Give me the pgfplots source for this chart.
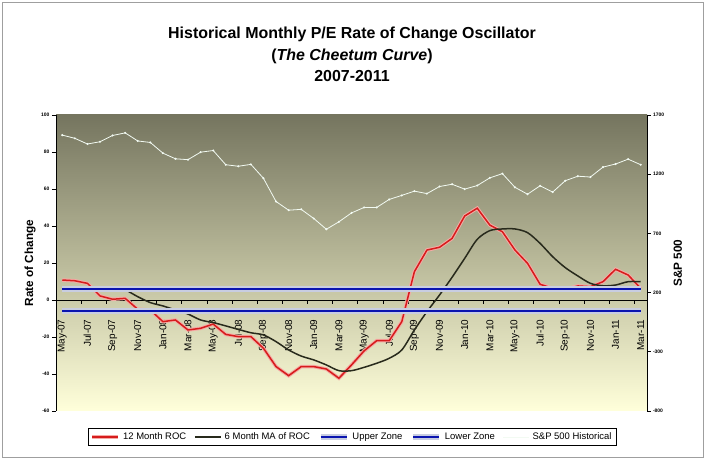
\documentclass[border=0pt]{standalone}
\usepackage{pgfplots}
\usepackage{pgfplotstable}
\pgfplotsset{compat=1.18}
\usepackage{fontspec}
\setmainfont{Liberation Sans}
\definecolor{rocred}{RGB}{214,28,28}
\definecolor{rocglow}{RGB}{245,170,165}
\definecolor{maline}{RGB}{40,42,28}
\definecolor{zoneblue}{RGB}{10,20,175}
\definecolor{zoneglow}{RGB}{200,205,225}
\definecolor{spwhite}{RGB}{242,250,242}
\definecolor{bgtop}{RGB}{117,117,95}
\definecolor{bgmid}{RGB}{186,186,154}
\definecolor{bgbot}{RGB}{255,255,218}
\pgfplotstableread{
i roc ma sp up lo
0 10.8 5.2 1530 6 -6
1 10.4 6.3 1503 6 -6
2 9.0 6.5 1455 6 -6
3 2.2 6.5 1474 6 -6
4 0.4 6.3 1527 6 -6
5 0.9 5.4 1549 6 -6
6 -5.0 1.8 1481 6 -6
7 -5.4 -1.4 1468 6 -6
8 -11.7 -3.2 1378 6 -6
9 -10.8 -5.4 1330 6 -6
10 -16.2 -7.6 1323 6 -6
11 -15.3 -10.8 1386 6 -6
12 -13.0 -12.2 1400 6 -6
13 -18.6 -14.0 1280 6 -6
14 -19.8 -15.9 1267 6 -6
15 -19.8 -17.7 1283 6 -6
16 -26.1 -18.9 1165 6 -6
17 -36.0 -22.5 969 6 -6
18 -40.9 -27.0 896 6 -6
19 -36.0 -30.3 903 6 -6
20 -36.0 -32.4 826 6 -6
21 -37.3 -35.1 735 6 -6
22 -42.3 -38.2 798 6 -6
23 -35.1 -38.2 873 6 -6
24 -27.5 -36.4 919 6 -6
25 -22.0 -34.2 919 6 -6
26 -22.0 -31.5 987 6 -6
27 -11.7 -27.0 1021 6 -6
28 15.3 -16.2 1057 6 -6
29 27.0 -6.3 1036 6 -6
30 28.5 2.7 1096 6 -6
31 33.3 12.3 1115 6 -6
32 45.4 22.5 1074 6 -6
33 49.6 32.8 1104 6 -6
34 40.5 37.5 1169 6 -6
35 36.9 38.4 1205 6 -6
36 27.0 38.4 1089 6 -6
37 19.8 36.4 1031 6 -6
38 8.5 30.6 1102 6 -6
39 6.3 23.4 1049 6 -6
40 5.8 17.5 1145 6 -6
41 7.6 13.0 1183 6 -6
42 7.2 9.0 1176 6 -6
43 9.9 7.7 1260 6 -6
44 16.6 8.1 1286 6 -6
45 13.5 9.9 1327 6 -6
46 6.3 9.9 1280 6 -6
}\data
\begin{document}
\begin{tikzpicture}
\useasboundingbox (0,0) rectangle (705bp,460bp);
\fill[white] (0,0) rectangle (705bp,460bp);
\draw[gray!75, line width=1bp] (2bp,2.5bp) rectangle (703bp,457.5bp);
\shade[top color=bgtop, bottom color=bgbot, middle color=bgmid] (56bp,49bp) rectangle (647bp,345bp);
\node[font=\fontsize{16}{18}\selectfont\bfseries, anchor=base] at (352bp,421bp) {Historical Monthly P/E Rate of Change Oscillator};
\node[font=\fontsize{16}{18}\selectfont\bfseries, anchor=base] at (352bp,399bp) {(\textit{The Cheetum Curve})};
\node[font=\fontsize{16}{18}\selectfont\bfseries, anchor=base] at (352bp,378bp) {2007-2011};
\begin{axis}[
  at={(56bp,49bp)}, anchor=south west,
  scale only axis, width=591bp, height=296bp,
  xmin=-0.5, xmax=46.5, ymin=-60, ymax=100,
  axis x line=middle, axis y line*=left,
  axis line style={-, black, line width=0.7bp},
  hide obscured y ticks=false, hide obscured x ticks=false,
  /pgf/number format/assume math mode=true,
  ytick={-60,-40,...,100},
  yticklabel style={font=\fontsize{5}{6}\selectfont\bfseries, xshift=1bp},
  ytick align=outside,
  xtick={1.5,3.5,...,45.5},
  xticklabel={\phantom{0}},
  xtick style={draw=black, line width=0.7bp},
  extra x ticks={0,2,...,46},
  extra x tick labels={May-07,Jul-07,Sep-07,Nov-07,Jan-08,Mar-08,May-08,Jul-08,Sep-08,Nov-08,Jan-09,Mar-09,May-09,Jul-09,Sep-09,Nov-09,Jan-10,Mar-10,May-10,Jul-10,Sep-10,Nov-10,Jan-11,Mar-11},
  extra x tick style={xtick style={draw=none}},
  xtick align=outside,
  major tick length=4bp,
  ytick style={black, line width=0.6bp},
  xticklabel style={yshift=-12bp, rotate=90, anchor=east, font=\fontsize{10}{12}\selectfont},
  every axis y label/.style={at={(axis description cs:-0.044,0.5)}, rotate=90, anchor=center},
  ylabel={Rate of Change},
  ylabel style={font=\fontsize{11.8}{13}\selectfont\bfseries},
  clip=false,
  legend columns=5,
  legend style={at={(axis description cs:0.501,-0.088)}, anchor=center, draw=black, line width=0.7bp,
    font=\fontsize{9.5}{11}\selectfont, inner sep=2.5bp,
    /tikz/every even column/.append style={column sep=6bp},
    /tikz/every odd column/.append style={column sep=1bp}},
  legend image code/.code={\draw[#1] (0bp,0bp) -- (26bp,0bp);},
]
\addplot[rocred, line width=1.5bp, preaction={draw=rocglow, line width=3.5bp}] table[x=i,y=roc] {\data};
\addlegendentry{12 Month ROC}
\addplot[maline, line width=1.5bp, smooth] table[x=i,y=ma] {\data};
\addlegendentry{6 Month MA of ROC}
\addplot[zoneblue, line width=2.6bp, preaction={draw=zoneglow, line width=5.5bp}] table[x=i,y=up] {\data};
\addlegendentry{Upper Zone}
\addplot[zoneblue, line width=2.6bp, preaction={draw=zoneglow, line width=5.5bp}] table[x=i,y=lo] {\data};
\addlegendentry{Lower Zone}
\addlegendimage{spwhite, line width=0.8bp}
\addlegendentry{S\&P 500 Historical}
\end{axis}
\begin{axis}[
  at={(56bp,49bp)}, anchor=south west,
  scale only axis, width=591bp, height=296bp,
  xmin=-0.5, xmax=46.5, ymin=-800, ymax=1700,
  axis x line=none, axis y line*=right,
  axis line style={-, black, line width=0.7bp},
  /pgf/number format/assume math mode=true,
  /pgf/number format/1000 sep={},
  ytick={-800,-300,...,1700},
  yticklabel style={font=\fontsize{5}{6}\selectfont\bfseries, xshift=-1bp},
  ytick align=outside, major tick length=3.5bp,
  tick style={black, line width=0.6bp},
  every axis y label/.style={at={(axis description cs:1.052,0.5)}, rotate=90, anchor=center},
  ylabel={S\&P 500},
  ylabel style={font=\fontsize{11.8}{13}\selectfont\bfseries},
]
\addplot[spwhite, line width=0.8bp, mark=*, mark size=0.6bp] table[x=i,y=sp] {\data};
\end{axis}
\end{tikzpicture}
\end{document}
